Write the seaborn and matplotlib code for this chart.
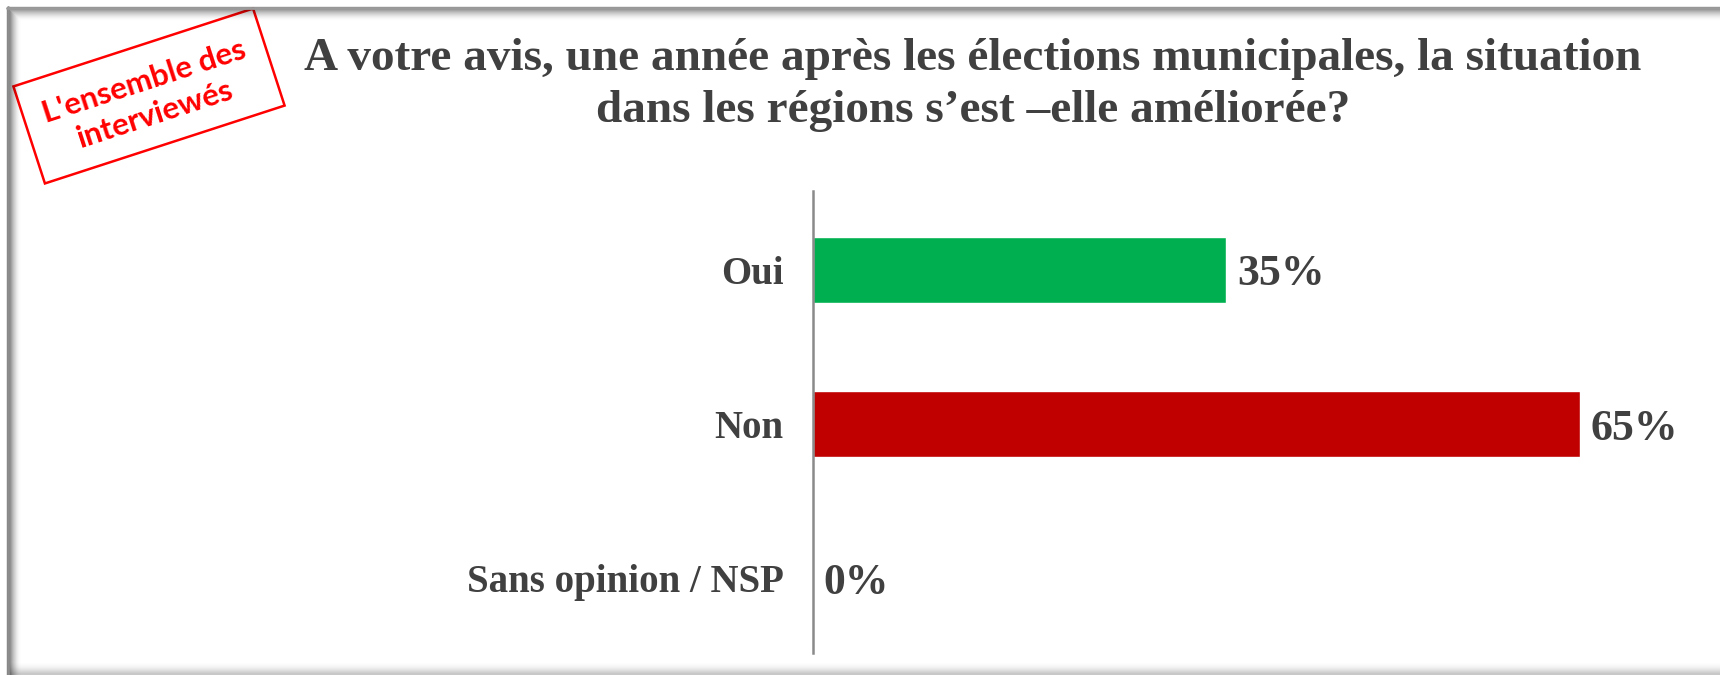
import numpy as np
import matplotlib
matplotlib.use("Agg")
import matplotlib.pyplot as plt
import seaborn as sns
from matplotlib.patches import Polygon

# données du graphique
categories = ["Oui", "Non", "Sans opinion / NSP"]
pourcentages = [35, 65, 0]
couleurs = ["#00B050", "#C00000", "#7F7F7F"]
titre = ("A votre avis, une année après les élections municipales, la situation\n"
         "dans les régions s\u2019est \u2013elle améliorée?")
tampon = "L'ensemble des\ninterviewés"

TEXTE = "#404040"
W, H = 1720, 675

sns.set_theme(style="white")
plt.rcParams["font.family"] = ["Liberation Serif", "DejaVu Serif"]

fig = plt.figure(figsize=(W / 100, H / 100), dpi=100)
fig.patch.set_facecolor("white")

# fond en pixels pour le cadre ombré et le tampon
bg = fig.add_axes([0, 0, 1, 1])
bg.set_xlim(0, W)
bg.set_ylim(H, 0)
bg.axis("off")

# cadre avec ombre intérieure
for i in range(14):
    a = 0.55 * (1 - i / 14) ** 2
    bg.plot([7 + i, 7 + i], [7 + i, H], color="black", alpha=a, lw=1, solid_capstyle="butt")
    bg.plot([7 + i, W], [7 + i, 7 + i], color="black", alpha=a * 0.8, lw=1, solid_capstyle="butt")
for i in range(14):
    a = 0.22 * (i / 14) ** 2
    bg.plot([7, W], [661 + i, 661 + i], color="black", alpha=a, lw=1, solid_capstyle="butt")
bg.plot([7.5, 7.5], [7, H], color="#8c8c8c", lw=2)
bg.plot([7, W], [7.5, 7.5], color="#9a9a9a", lw=2)

# tampon rouge incliné
cx, cy, w, h, ang = 149, 96, 252, 102, np.deg2rad(18)
u = np.array([np.cos(ang), -np.sin(ang)])
v = np.array([np.sin(ang), np.cos(ang)])
c = np.array([cx, cy])
coins = [c - u * w / 2 - v * h / 2, c + u * w / 2 - v * h / 2,
         c + u * w / 2 + v * h / 2, c - u * w / 2 + v * h / 2]
bg.add_patch(Polygon(coins, closed=True, fill=False, edgecolor="#FF0000", lw=1.8))
bg.text(cx + 1, cy + 2, tampon, rotation=18, rotation_mode="anchor", ha="center", va="center",
        multialignment="center", color="#FF0000", fontsize=22.5, fontweight="bold",
        family=["Lato", "DejaVu Sans"], linespacing=1.32)

# titre
fig.text(973 / W, 1 - 38 / H, titre, ha="center", va="top", fontsize=34,
         fontweight="bold", color=TEXTE, linespacing=1.3)

# graphique en barres
ax = fig.add_axes([812.7 / W, 21.7 / H, 885 / W, 462.6 / H])
sns.barplot(x=pourcentages, y=categories, hue=categories, palette=couleurs,
            legend=False, orient="h", width=0.428, ax=ax, saturation=1)
ax.set_xlim(0, 75)
ax.set_ylim(2.486, -0.512)
ax.set_xlabel("")
ax.set_ylabel("")
ax.set_xticks([])
for s in ["top", "right", "bottom"]:
    ax.spines[s].set_visible(False)
ax.spines["left"].set_color("#8a8a8a")
ax.spines["left"].set_linewidth(1.8)
ax.tick_params(axis="y", length=0, pad=21, labelsize=28, labelcolor=TEXTE)
for lab in ax.get_yticklabels():
    lab.set_fontweight("bold")
ax.set_facecolor("none")

for cont in ax.containers:
    labs = ax.bar_label(cont, labels=[f"{int(x)}%" for x in cont.datavalues], padding=8,
                        fontsize=31.5, fontweight="bold", color=TEXTE)
    for t in labs:
        t.set_va("center_baseline")

fig.savefig("out.png", dpi=100, facecolor="white")
